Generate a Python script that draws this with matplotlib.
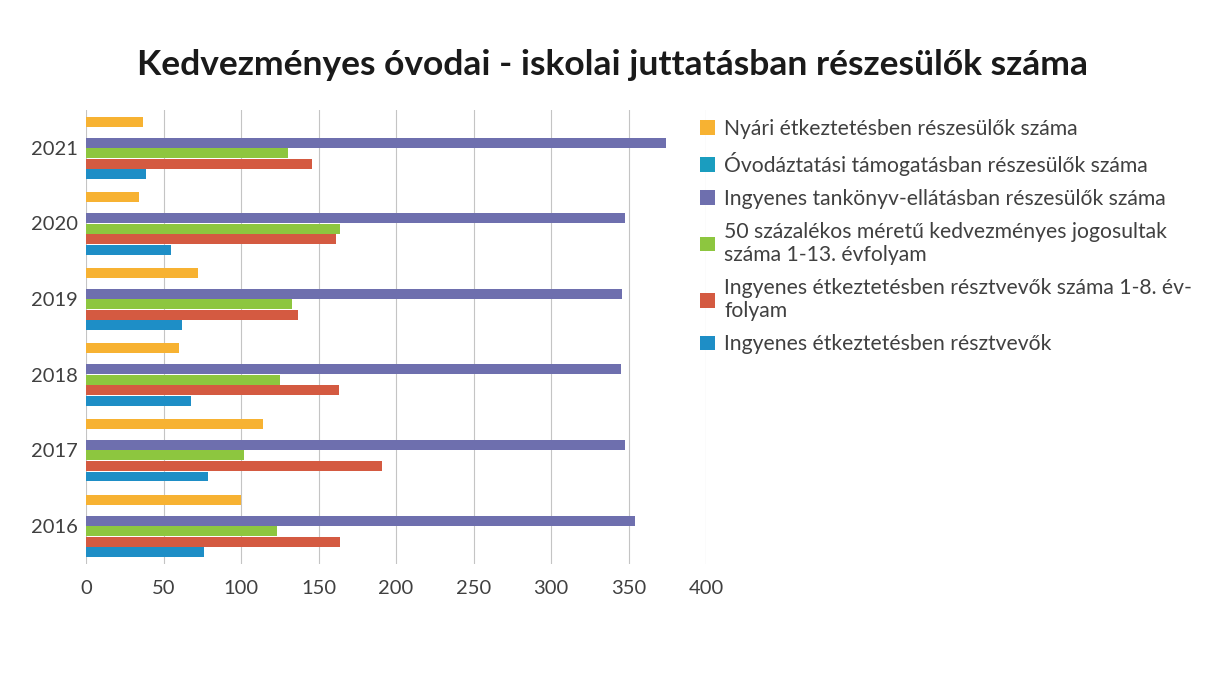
import numpy as np
import matplotlib.pyplot as plt

plt.rcParams['font.family'] = ['Lato', 'DejaVu Sans']

years = ['2016', '2017', '2018', '2019', '2020', '2021']

# series listed top-to-bottom within each year group (same order as the legend)
nyari = [100, 114, 60, 72, 34, 37]
ovodaztatasi = [0, 0, 0, 0, 0, 0]
tankonyv = [354, 348, 345, 346, 348, 374]
szazalek50 = [123, 102, 125, 133, 164, 130]
etkezes_1_8 = [164, 191, 163, 137, 161, 146]
etkezes = [76, 79, 68, 62, 55, 39]

labels = ['Nyári étkeztetésben részesülők száma',
          'Óvodáztatási támogatásban részesülők száma',
          'Ingyenes tankönyv-ellátásban részesülők száma',
          '50 százalékos méretű kedvezményes jogosultak\nszáma 1-13. évfolyam',
          'Ingyenes étkeztetésben résztvevők száma 1-8. év-\nfolyam',
          'Ingyenes étkeztetésben résztvevők']
colors = ['#F7B232', '#1A9DBF', '#6E6FAE', '#8DC63F', '#D45A41', '#1E8EC6']

series = [nyari, ovodaztatasi, tankonyv, szazalek50, etkezes_1_8, etkezes]

fig = plt.figure(figsize=(12.05, 6.75), dpi=100)
ax = fig.add_axes([0.0714, 0.165, 0.5145, 0.672])

y = np.arange(len(years))
h = 0.139
handles = []
for i, (vals, c) in enumerate(zip(series, colors)):
    off = (2.5 - i) * h
    b = ax.barh(y + off, vals, height=h * 0.95, color=c, zorder=3)
    handles.append(b)

ax.set_xlim(0, 400)
ax.set_ylim(-0.5, 5.5)
ax.set_xticks(range(0, 401, 50))
ax.set_yticks(y)
ax.set_yticklabels(years)
ax.tick_params(axis='both', length=0, labelsize=14.5, colors='#404040')
ax.tick_params(axis='x', pad=12)
ax.tick_params(axis='y', pad=6)
ax.grid(axis='x', color='#c4c4c4', lw=0.8, zorder=0)
for s in ax.spines.values():
    s.set_visible(False)

fig.suptitle('Kedvezményes óvodai - iskolai juttatásban részesülők száma',
             x=0.508, y=0.904, va='center', fontsize=25.5, fontweight='bold',
             color='#1a1a1a')

leg = fig.legend(handles, labels, loc='upper left', bbox_to_anchor=(0.572, 0.84),
                 frameon=False, fontsize=15.2, handlelength=0.7, handleheight=0.7,
                 handletextpad=0.45, labelspacing=0.62, borderpad=0)
for t in leg.get_texts():
    t.set_color('#404040')

fig.savefig('out.png', dpi=100, facecolor='white')
